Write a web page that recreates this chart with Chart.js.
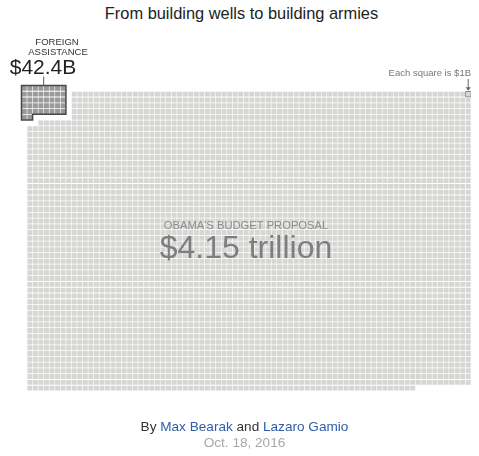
<!DOCTYPE html>
<html>
<head>
<meta charset="utf-8">
<script src="https://cdn.jsdelivr.net/npm/chart.js@4.4.1/dist/chart.umd.min.js"></script>
<style>
  body { margin: 0; background: #fff; font-family: "Liberation Sans", Arial, sans-serif; }
  .wrap { position: relative; width: 479px; height: 456px; }
  #waffle { position: absolute; left: 0; top: 0; }
  .title { position: absolute; left: 2px; top: 4px; width: 479px; text-align: center; font-size: 16.4px; color: #222; }
  .byline { position: absolute; left: 5px; top: 419px; width: 479px; text-align: center; font-size: 13.6px; color: #333; }
  .byline a { color: #2e5ea8; text-decoration: none; }
  .date { position: absolute; left: 5px; top: 435px; width: 479px; text-align: center; font-size: 13.6px; color: #a8a8a8; }
</style>
</head>
<body>
<div class="wrap">
  <div class="title">From building wells to building armies</div>
  <canvas id="waffle" width="479" height="456"></canvas>
  <div class="byline">By <a href="#">Max Bearak</a> and <a href="#">Lazaro Gamio</a></div>
  <div class="date">Oct. 18, 2016</div>
</div>
<script>
'use strict'

// values in billions of dollars
const categories = ["FOREIGN ASSISTANCE", "OBAMA'S BUDGET PROPOSAL"]
const amounts = [42.4, 4150]
const amountLabels = ["$42.4B", "$4.15 trillion"]
const squareValue = 1   // each square is $1B
const gridColumns = 80
const foreignColumns = 8

const foreignCount = Math.floor(amounts[0] / squareValue)
const totalCount = Math.round(amounts[1] / squareValue)

// foreign assistance squares sit in the top-left corner, 8 columns wide
const foreignCells = []
const taken = new Set()
for (let k = 0; k < foreignCount; k++) {
    const col = k % foreignColumns
    const row = Math.floor(k / foreignColumns)
    taken.add(row * gridColumns + col)
    // pulled out of the grid by one square up and left
    foreignCells.push({x: col - 1, y: row - 1})
}

// the rest of the budget fills the grid around it
const budgetCells = []
let cell = 0
while (budgetCells.length < totalCount - foreignCount) {
    if (!taken.has(cell)) {
        budgetCells.push({x: cell % gridColumns, y: Math.floor(cell / gridColumns)})
    }
    cell++
}
const rowCount = Math.ceil(totalCount / gridColumns)

// legend square: top row, last column
const keyCell = [{x: gridColumns - 1, y: 0}]

const font = '"Liberation Sans", Arial, sans-serif'

const annotations = {
    id: 'annotations',
    afterDatasetsDraw: function(chart) {
        const {ctx, scales} = chart
        const xs = scales.x
        const ys = scales.y
        ctx.save()

        // outline round the foreign assistance block
        const fullRows = Math.floor(foreignCount / foreignColumns)
        const rest = foreignCount % foreignColumns
        const outline = [
            [-1.5, -1.5],
            [foreignColumns - 1.5, -1.5],
            [foreignColumns - 1.5, fullRows - 1.5],
            [rest - 1.5, fullRows - 1.5],
            [rest - 1.5, fullRows - 0.5],
            [-1.5, fullRows - 0.5]
        ]
        ctx.beginPath()
        outline.forEach(function(p, i) {
            const px = xs.getPixelForValue(p[0])
            const py = ys.getPixelForValue(p[1])
            if (i === 0) ctx.moveTo(px, py); else ctx.lineTo(px, py)
        })
        ctx.closePath()
        ctx.strokeStyle = '#484848'
        ctx.lineWidth = 1.5
        ctx.stroke()

        // small tick from the label down to the block
        const blockMidX = xs.getPixelForValue((foreignColumns - 3) / 2)
        const blockTop = ys.getPixelForValue(-1.5)
        ctx.beginPath()
        ctx.moveTo(blockMidX, blockTop - 9)
        ctx.lineTo(blockMidX, blockTop)
        ctx.strokeStyle = '#555'
        ctx.lineWidth = 1
        ctx.stroke()

        ctx.textAlign = 'center'
        ctx.textBaseline = 'middle'
        ctx.fillStyle = '#333'
        ctx.font = `9.5px ${font}`
        ctx.fillText("FOREIGN", 57, 42)
        ctx.fillText("ASSISTANCE", 58, 52)
        ctx.fillStyle = '#222'
        ctx.font = `21px ${font}`
        ctx.fillText(amountLabels[0], 43, 68)

        // key: each square is $1B
        const keyX = xs.getPixelForValue(keyCell[0].x)
        const keyY = ys.getPixelForValue(keyCell[0].y)
        ctx.textAlign = 'right'
        ctx.fillStyle = '#777'
        ctx.font = `9.5px ${font}`
        ctx.fillText("Each square is $" + squareValue + "B", 471, 73)
        ctx.beginPath()
        ctx.moveTo(keyX, 79)
        ctx.lineTo(keyX, keyY - 4)
        ctx.strokeStyle = '#666'
        ctx.stroke()
        ctx.beginPath()
        ctx.moveTo(keyX - 2.5, keyY - 7)
        ctx.lineTo(keyX + 2.5, keyY - 7)
        ctx.lineTo(keyX, keyY - 3.5)
        ctx.closePath()
        ctx.fillStyle = '#666'
        ctx.fill()

        // budget label in the middle of the grid
        ctx.textAlign = 'center'
        ctx.fillStyle = '#8c8c8c'
        ctx.font = `11.2px ${font}`
        ctx.fillText(categories[1], 246, 226)
        ctx.fillStyle = '#7e7e7e'
        ctx.font = `32px ${font}`
        ctx.fillText(amountLabels[1], 246, 249)

        ctx.restore()
    }
}

new Chart(document.getElementById('waffle'), {
    type: 'scatter',
    data: {
        datasets: [
            {
                label: categories[1],
                data: budgetCells,
                pointStyle: 'rect',
                pointRadius: 3.5,
                pointBorderWidth: 0,
                backgroundColor: '#d6d6d4',
                borderColor: '#d6d6d4'
            },
            {
                label: categories[0],
                data: foreignCells,
                pointStyle: 'rect',
                pointRadius: 3.5,
                pointBorderWidth: 0,
                backgroundColor: '#9a9a9a',
                borderColor: '#9a9a9a'
            },
            {
                label: 'key',
                data: keyCell,
                pointStyle: 'rect',
                pointRadius: 3.6,
                pointBorderWidth: 1,
                backgroundColor: '#c4c4c4',
                borderColor: '#666'
            }
        ]
    },
    options: {
        responsive: false,
        animation: false,
        events: [],
        layout: {
            padding: {left: 21.5, right: 8, top: 85.5, bottom: 65}
        },
        scales: {
            x: {
                display: false,
                min: -1.5,
                max: gridColumns - 0.5
            },
            y: {
                display: false,
                reverse: true,
                min: -1.5,
                max: rowCount - 0.5
            }
        },
        plugins: {
            legend: {display: false},
            tooltip: {enabled: false}
        }
    },
    plugins: [annotations]
})
</script>
</body>
</html>
